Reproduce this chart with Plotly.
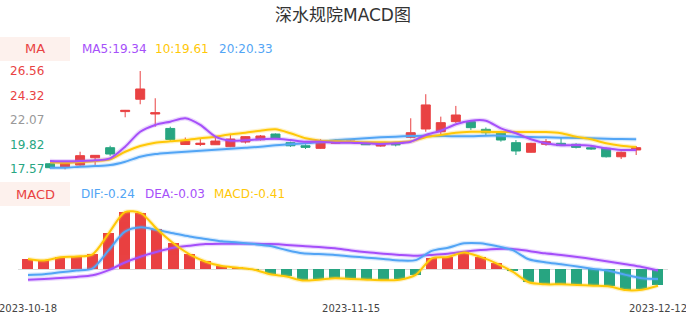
import plotly.graph_objects as go

# ---------------- data ----------------
dates = ["2023-10-18", "2023-10-19", "2023-10-20", "2023-10-23", "2023-10-24", "2023-10-25",
         "2023-10-26", "2023-10-27", "2023-10-30", "2023-10-31", "2023-11-01", "2023-11-02",
         "2023-11-03", "2023-11-06", "2023-11-07", "2023-11-08", "2023-11-09", "2023-11-10",
         "2023-11-13", "2023-11-14", "2023-11-15", "2023-11-16", "2023-11-17", "2023-11-20",
         "2023-11-21", "2023-11-22", "2023-11-23", "2023-11-24", "2023-11-27", "2023-11-28",
         "2023-11-29", "2023-11-30", "2023-12-01", "2023-12-04", "2023-12-05", "2023-12-06",
         "2023-12-07", "2023-12-08", "2023-12-11", "2023-12-12"]

open_ = [18.08, 17.75, 17.96, 18.63, 19.55, 22.85, 23.98, 22.63, 21.31, 19.84,
         19.84, 19.82, 19.64, 20.07, 20.28, 20.80, 20.01, 19.73, 19.49, 19.95,
         20.08, 19.95, 19.70, 19.85, 20.50, 21.26, 21.01, 21.93, 21.93, 21.23,
         20.87, 20.01, 19.13, 19.86, 19.95, 19.86, 19.55, 19.49, 18.72, 19.34]
high = [18.15, 18.33, 19.18, 18.87, 19.73, 23.00, 26.56, 24.07, 21.47, 20.48,
        20.39, 20.55, 20.71, 20.60, 20.71, 20.85, 20.10, 19.86, 20.32, 20.15,
        20.20, 19.98, 20.00, 19.98, 22.24, 24.44, 22.39, 23.37, 22.08, 21.40,
        21.01, 20.25, 20.00, 20.34, 20.46, 19.95, 19.73, 19.55, 19.20, 19.70]
low = [17.65, 17.57, 17.90, 17.97, 18.80, 22.33, 23.52, 21.47, 20.10, 19.80,
       19.70, 19.80, 19.60, 19.93, 20.20, 20.33, 19.62, 19.43, 19.45, 19.90,
       20.02, 19.80, 19.64, 19.67, 20.40, 21.01, 20.62, 21.81, 21.17, 20.70,
       20.10, 18.88, 19.10, 19.73, 19.73, 19.48, 19.36, 18.65, 18.51, 18.88]
close = [17.72, 18.12, 18.82, 18.85, 18.97, 22.97, 24.92, 22.75, 20.30, 20.16,
         19.96, 20.16, 20.34, 20.56, 20.62, 20.37, 19.73, 19.58, 20.01, 20.10,
         20.14, 19.82, 19.95, 19.82, 20.92, 23.46, 21.84, 22.54, 21.38, 20.92,
         20.25, 19.25, 19.95, 20.10, 19.74, 19.58, 19.43, 18.72, 19.13, 19.55]

ma5 = [18.33, 18.30, 18.33, 18.39, 18.58, 19.64, 21.01, 21.63, 21.93, 22.24,
       21.63, 20.56, 20.19, 20.23, 20.32, 20.37, 20.25, 20.10, 20.10, 20.01,
       20.01, 19.95, 19.89, 19.95, 20.10, 20.71, 21.10, 21.69, 22.02, 22.02,
       21.32, 20.87, 20.32, 19.95, 19.77, 19.80, 19.73, 19.49, 19.34, 19.34]
ma10 = [18.21, 18.17, 18.24, 18.33, 18.49, 19.18, 19.70, 20.01, 20.13, 20.25,
        20.41, 20.56, 20.77, 20.92, 21.10, 21.23, 20.87, 20.41, 20.19, 20.13,
        20.10, 20.04, 20.04, 20.04, 20.13, 20.50, 20.71, 20.92, 21.01, 21.01,
        20.98, 20.98, 20.98, 20.98, 20.87, 20.56, 20.32, 19.95, 19.73, 19.61]
ma20 = [17.72, 17.72, 17.81, 17.87, 17.96, 18.27, 18.72, 18.97, 19.09, 19.18,
        19.27, 19.36, 19.46, 19.55, 19.64, 19.77, 19.86, 19.95, 20.07, 20.25,
        20.32, 20.41, 20.50, 20.56, 20.62, 20.65, 20.62, 20.59, 20.59, 20.65,
        20.65, 20.56, 20.53, 20.50, 20.47, 20.44, 20.41, 20.37, 20.34, 20.33]

dif = [-0.14, -0.125, -0.075, -0.03, 0.025, 0.48, 0.94, 1.05, 0.98, 0.90,
       0.82, 0.76, 0.70, 0.67, 0.63, 0.58, 0.48, 0.40, 0.38, 0.36,
       0.32, 0.29, 0.26, 0.22, 0.23, 0.46, 0.54, 0.65, 0.65, 0.58,
       0.48, 0.25, 0.175, 0.125, 0.07, 0.01, -0.04, -0.14, -0.225, -0.24]
dea = [-0.26, -0.24, -0.22, -0.19, -0.15, -0.02, 0.17, 0.32, 0.44, 0.54,
       0.59, 0.63, 0.64, 0.64, 0.64, 0.63, 0.61, 0.58, 0.56, 0.525,
       0.47, 0.425, 0.39, 0.36, 0.34, 0.36, 0.39, 0.44, 0.48, 0.51,
       0.51, 0.46, 0.40, 0.36, 0.31, 0.25, 0.19, 0.125, 0.06, -0.03]
macd = [0.26, 0.22, 0.30, 0.32, 0.375, 0.90, 1.43, 1.40, 1.00, 0.65,
        0.375, 0.19, 0.08, 0.04, -0.01, -0.125, -0.18, -0.28, -0.26, -0.225,
        -0.24, -0.26, -0.275, -0.26, -0.14, 0.275, 0.31, 0.42, 0.31, 0.15,
        -0.06, -0.325, -0.375, -0.375, -0.39, -0.41, -0.43, -0.52, -0.51, -0.41]

y_ticks = [26.56, 24.32, 22.07, 19.82, 17.57]
x_ticks = ["2023-10-18", "2023-11-15", "2023-12-12"]

# ---------------- styles ----------------
W, H = 686, 320
RED = "#e94243"
GREEN = "#28a682"
PURPLE = "#a650fa"
YELLOW = "#ffc807"
BLUE = "#52a5f5"
FONT = "DejaVu Sans, Noto Sans CJK SC, sans-serif"


def px_x(p):
    return p / W


def px_y(p):
    return 1 - p / H


fig = go.Figure()

# candles
fig.add_trace(go.Candlestick(
    x=dates, open=open_, high=high, low=low, close=close,
    increasing=dict(line=dict(color=RED, width=1), fillcolor=RED),
    decreasing=dict(line=dict(color=GREEN, width=1), fillcolor=GREEN),
    whiskerwidth=0, xaxis="x", yaxis="y", showlegend=False, hoverinfo="skip"))


def add_line(y, color, xa, ya):
    fig.add_trace(go.Scatter(x=dates, y=y, mode="lines", xaxis=xa, yaxis=ya,
                             line=dict(color=color, width=4.5, shape="spline", smoothing=0.8),
                             opacity=0.22, showlegend=False, hoverinfo="skip"))
    fig.add_trace(go.Scatter(x=dates, y=y, mode="lines", xaxis=xa, yaxis=ya,
                             line=dict(color=color, width=2, shape="spline", smoothing=0.8),
                             showlegend=False, hoverinfo="skip"))


add_line(ma20, BLUE, "x", "y")
add_line(ma10, YELLOW, "x", "y")
add_line(ma5, PURPLE, "x", "y")

# MACD bars
bar_colors = [RED if v >= 0 else GREEN for v in macd]
fig.add_trace(go.Bar(x=dates, y=macd, xaxis="x2", yaxis="y2", width=0.68,
                     marker=dict(color=bar_colors, line=dict(width=0)),
                     showlegend=False, hoverinfo="skip"))
add_line(dea, PURPLE, "x2", "y2")
add_line(dif, BLUE, "x2", "y2")
add_line(macd, YELLOW, "x2", "y2")

# axis geometry (pixel-derived)
top_x0, top_x1 = 42.5, 643.7
bot_x0, bot_x1 = 18.3, 667.7
top_rng = [17.4, 26.7]
top_y_px = [171.2, 69.5]
bot_rng = [-0.6, 1.5]
bot_y_px = [293.3, 209.3]

fig.update_layout(
    width=W, height=H,
    margin=dict(l=0, r=0, t=0, b=0, autoexpand=False),
    paper_bgcolor="white", plot_bgcolor="white",
    font=dict(family=FONT),
    bargap=0,
    boxgap=0.2, boxgroupgap=0.25,
    xaxis=dict(type="category", domain=[px_x(top_x0), px_x(top_x1)], range=[-0.5, 39.5],
               showgrid=False, zeroline=False, showticklabels=False, showline=False,
               rangeslider=dict(visible=False), anchor="y", automargin=False),
    yaxis=dict(domain=[px_y(top_y_px[0]), px_y(top_y_px[1])], range=top_rng,
               showgrid=False, zeroline=False, showticklabels=False, anchor="x",
               automargin=False),
    xaxis2=dict(type="category", domain=[px_x(bot_x0), px_x(bot_x1)], range=[-0.6, 39.6],
                showgrid=False, zeroline=False, showline=False, anchor="y2",
                tickvals=x_ticks, ticktext=x_ticks, ticks="",
                tickfont=dict(size=10, color="#444444", family=FONT),
                ticklabelstandoff=8,
                ticklabeloverflow="allow", automargin=False),
    yaxis2=dict(domain=[px_y(bot_y_px[0]), px_y(bot_y_px[1])], range=bot_rng,
                showgrid=False, zeroline=True, zerolinecolor="#dcdcdc", zerolinewidth=1,
                showticklabels=False, anchor="x2", automargin=False),
)

# label boxes
for y0, y1 in [(37, 61), (182, 206)]:
    fig.add_shape(type="rect", xref="paper", yref="paper",
                  x0=0, x1=px_x(70), y0=px_y(y1), y1=px_y(y0),
                  fillcolor="#fdf1ed", line=dict(width=0), layer="below")

annotations = []


def text(x, y, s, color, size=12, xanchor="left", yref="paper"):
    annotations.append(dict(x=x, y=y, xref="paper", yref=yref, text=s, showarrow=False,
                            xanchor=xanchor, yanchor="middle",
                            font=dict(family=FONT, size=size, color=color)))


text(0.5, px_y(15), "深水规院MACD图", "#333333", size=17, xanchor="center")
text(px_x(35), px_y(49), "MA", RED, size=13, xanchor="center")
text(px_x(80), px_y(49), "MA5:%.2f" % ma5[-1], PURPLE)
text(px_x(153), px_y(49), "10:%.2f" % ma10[-1], YELLOW)
text(px_x(217), px_y(49), "20:%.2f" % ma20[-1], BLUE)
text(px_x(35), px_y(194), "MACD", RED, size=13, xanchor="center")
text(px_x(79), px_y(194), "DIF:%.2f" % dif[-1], BLUE)
text(px_x(143), px_y(194), "DEA:%.2f" % dea[-1], PURPLE)
text(px_x(212), px_y(194), "MACD:%.2f" % macd[-1], YELLOW)

tick_colors = [RED, RED, "#999999", GREEN, GREEN]
for v, c in zip(y_ticks, tick_colors):
    text(px_x(8), v, "%.2f" % v, c, size=12, yref="y")

fig.update_layout(annotations=annotations)

fig.write_html("out.html")
